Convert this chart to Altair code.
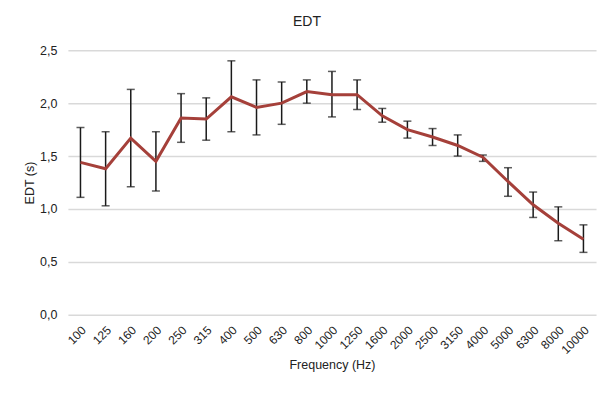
import altair as alt
import pandas as pd

freqs = ["100", "125", "160", "200", "250", "315", "400", "500", "630", "800", "1000",
         "1250", "1600", "2000", "2500", "3150", "4000", "5000", "6300", "8000", "10000"]
edt = [1.44, 1.38, 1.67, 1.45, 1.86, 1.85, 2.06, 1.96, 2.00, 2.11, 2.08,
       2.08, 1.88, 1.75, 1.68, 1.60, 1.49, 1.26, 1.04, 0.865, 0.715]
edt_hi = [1.77, 1.73, 2.13, 1.73, 2.09, 2.05, 2.40, 2.22, 2.20, 2.22, 2.30,
          2.22, 1.95, 1.83, 1.76, 1.70, 1.51, 1.39, 1.16, 1.02, 0.85]
edt_lo = [1.11, 1.03, 1.21, 1.17, 1.63, 1.65, 1.73, 1.70, 1.80, 2.00, 1.87,
          1.94, 1.82, 1.67, 1.60, 1.50, 1.45, 1.12, 0.92, 0.70, 0.59]

df = pd.DataFrame({"freq": freqs, "edt": edt, "hi": edt_hi, "lo": edt_lo})

font = "Liberation Sans"
xscale = alt.Scale(type="point", padding=0.5, domain=freqs)
x = alt.X("freq:N", sort=freqs, scale=xscale,
          axis=alt.Axis(title="Frequency (Hz)", labelAngle=-45, labelAlign="right",
                        labelBaseline="middle", labelPadding=13, labelOffset=3,
                        ticks=False, domain=False,
                        labelFontSize=12, titleFontSize=12.5, titlePadding=3,
                        labelColor="#222", titleColor="#222", grid=False,
                        labelFont=font, titleFont=font, titleFontWeight="normal"))
yscale = alt.Scale(domain=[0, 2.5], nice=False)
y_axis = alt.Axis(title="EDT (s)", values=[0, 0.5, 1.0, 1.5, 2.0, 2.5], format=".1f",
                  labelExpr="replace(datum.label, '.', ',')", ticks=False, domain=False,
                  gridColor="#d9d9d9", gridWidth=1.5, labelPadding=11,
                  labelFontSize=12.5, titleFontSize=12.5, titlePadding=3,
                  labelColor="#222", titleColor="#222",
                  labelFont=font, titleFont=font, titleFontWeight="normal")

base = alt.Chart(df)
rules = base.mark_rule(color="#1a1a1a", strokeWidth=1.5).encode(
    x=x, y=alt.Y("lo:Q", scale=yscale, axis=y_axis), y2="hi:Q")
cap_hi = base.mark_tick(color="#1a1a1a", size=8, thickness=1.5).encode(
    x=x, y=alt.Y("hi:Q", scale=yscale))
cap_lo = base.mark_tick(color="#1a1a1a", size=8, thickness=1.5).encode(
    x=x, y=alt.Y("lo:Q", scale=yscale))
line = base.mark_line(color="#A5403A", strokeWidth=3).encode(
    x=x, y=alt.Y("edt:Q", scale=yscale))

chart = alt.layer(rules, cap_hi, cap_lo, line).properties(
    width=529, height=265,
    title=alt.TitleParams("EDT", font=font, fontSize=14, fontWeight="normal",
                          color="#222", anchor="middle", dx=-25, offset=15),
    autosize=alt.AutoSizeParams(type="none"),
    padding={"left": 60, "top": 42, "right": 10, "bottom": 75},
).configure_view(stroke=None)

chart.save("out.html", embed_options={"renderer": "svg", "actions": False})
